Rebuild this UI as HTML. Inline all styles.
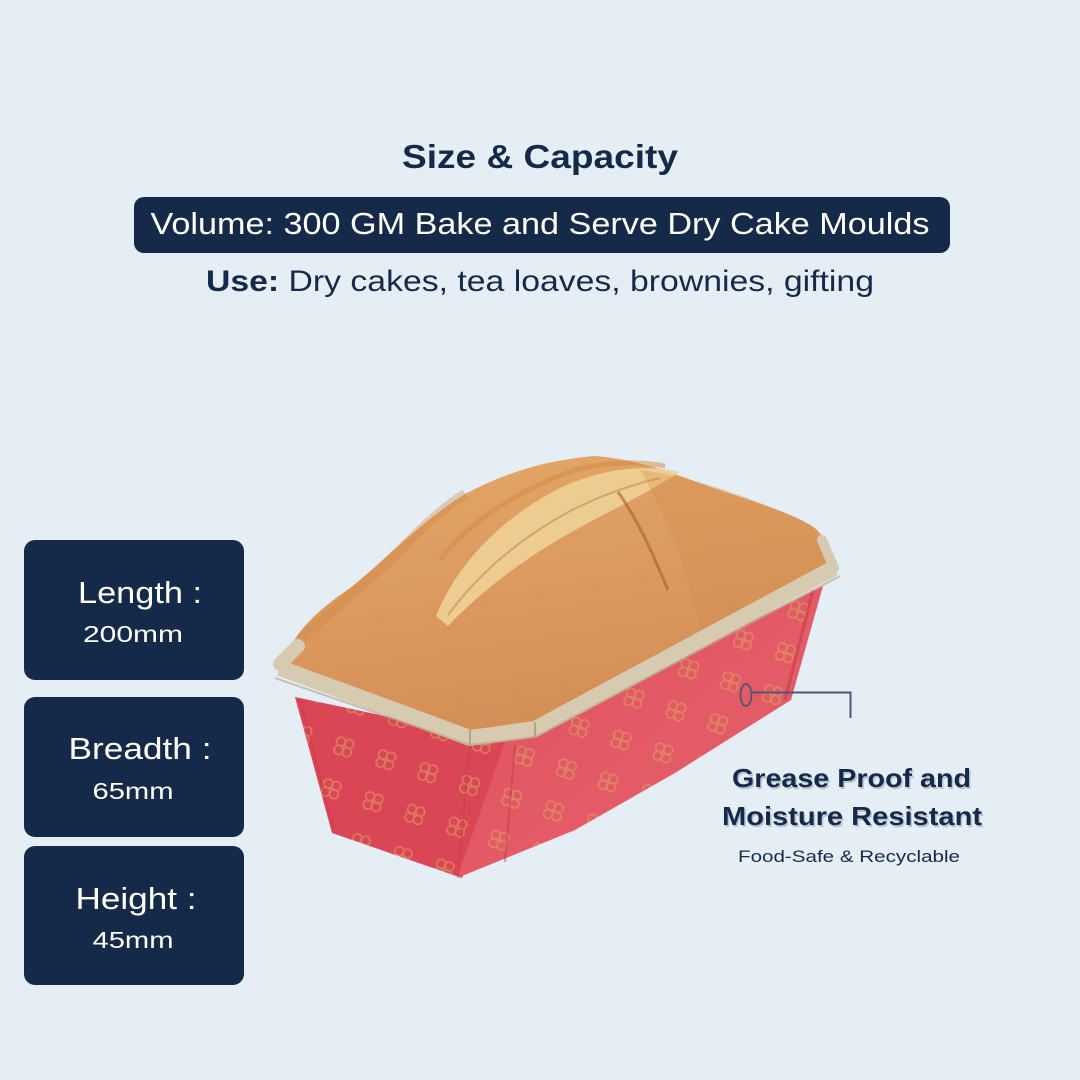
<!DOCTYPE html>
<html><head><meta charset="utf-8"><style>
html,body{margin:0;padding:0;background:#e5eef5;}
svg{display:block;}
text{font-family:"Liberation Sans",Arial,sans-serif;}
</style></head><body>
<svg width="1080" height="1080" viewBox="0 0 1080 1080" xmlns="http://www.w3.org/2000/svg">
<defs>
  <linearGradient id="loaf" x1="0" y1="0" x2="0.3" y2="1">
    <stop offset="0" stop-color="#e4a865"/>
    <stop offset="0.45" stop-color="#dd9c60"/>
    <stop offset="1" stop-color="#d48f57"/>
  </linearGradient>
  <linearGradient id="redR" x1="0" y1="0" x2="1" y2="1">
    <stop offset="0" stop-color="#e2505f"/>
    <stop offset="1" stop-color="#e5626d"/>
  </linearGradient>
  <pattern id="flw" width="62" height="62" patternUnits="userSpaceOnUse" patternTransform="rotate(-28)">
    <g fill="none" stroke="#d9a35c" stroke-width="1.6" opacity="0.6">
      <g transform="translate(15,15)">
        <circle cx="0" cy="-6" r="4.5"/><circle cx="6" cy="0" r="4.5"/><circle cx="0" cy="6" r="4.5"/><circle cx="-6" cy="0" r="4.5"/><circle cx="0" cy="0" r="1.5"/>
      </g>
      <g transform="translate(46,46)">
        <circle cx="0" cy="-6" r="4.5"/><circle cx="6" cy="0" r="4.5"/><circle cx="0" cy="6" r="4.5"/><circle cx="-6" cy="0" r="4.5"/><circle cx="0" cy="0" r="1.5"/>
      </g>
    </g>
  </pattern>
</defs>

<rect width="1080" height="1080" fill="#e5eef5"/>

<!-- Header -->
<text x="540" y="168" text-anchor="middle" font-size="33" font-weight="bold" fill="#152a4a" textLength="276" lengthAdjust="spacingAndGlyphs">Size &amp; Capacity</text>
<rect x="134" y="197" width="816" height="56" rx="10" fill="#152a48"/>
<text x="540" y="234" text-anchor="middle" font-size="31" fill="#ffffff" textLength="779" lengthAdjust="spacingAndGlyphs">Volume: 300 GM Bake and Serve Dry Cake Moulds</text>
<text x="540" y="291" text-anchor="middle" font-size="30" fill="#152a4a" textLength="668" lengthAdjust="spacingAndGlyphs"><tspan font-weight="bold">Use:</tspan> Dry cakes, tea loaves, brownies, gifting</text>

<!-- Left boxes -->
<rect x="24" y="540" width="220" height="140" rx="11" fill="#152a48"/>
<text x="140" y="603" text-anchor="middle" font-size="31" fill="#ffffff" textLength="124" lengthAdjust="spacingAndGlyphs">Length :</text>
<text x="133" y="642" text-anchor="middle" font-size="23" fill="#ffffff" textLength="100" lengthAdjust="spacingAndGlyphs">200mm</text>

<rect x="24" y="697" width="220" height="140" rx="11" fill="#152a48"/>
<text x="140" y="759" text-anchor="middle" font-size="31" fill="#ffffff" textLength="143" lengthAdjust="spacingAndGlyphs">Breadth :</text>
<text x="133" y="799" text-anchor="middle" font-size="23" fill="#ffffff" textLength="81" lengthAdjust="spacingAndGlyphs">65mm</text>

<rect x="24" y="846" width="220" height="139" rx="11" fill="#152a48"/>
<text x="136" y="909" text-anchor="middle" font-size="31" fill="#ffffff" textLength="121" lengthAdjust="spacingAndGlyphs">Height :</text>
<text x="133" y="948" text-anchor="middle" font-size="23" fill="#ffffff" textLength="81" lengthAdjust="spacingAndGlyphs">45mm</text>

<!-- Cake: red box -->
<path d="M295,697 L522,745 L462,878 L332,833 Z" fill="#db4657"/>
<path d="M295,697 L522,745 L462,878 L332,833 Z" fill="url(#flw)"/>
<path d="M505,742 L823,586 L791,700 L675,773 L575,830 L457,878 Z" fill="url(#redR)"/>
<path d="M505,742 L823,586 L791,700 L675,773 L575,830 L457,878 Z" fill="url(#flw)"/>
<path d="M515,746 L505,862" stroke="#c93a4c" stroke-width="2" opacity="0.5"/>
<path d="M470,744 L458,876" stroke="#c93a4c" stroke-width="2" opacity="0.4"/>
<path d="M813,590 L785,700" stroke="#c23546" stroke-width="3" opacity="0.5"/>
<path d="M300,700 L334,830" stroke="#c23546" stroke-width="2" opacity="0.4"/>

<!-- Loaf -->
<path d="M283,675 C285,640 312,614 350,588 C390,556 420,522 465,494 C505,473 545,460 595,456 C640,460 670,472 702,484 C748,500 792,512 815,528 C829,541 831,556 829,566 L535,724 L470,732 Z" fill="url(#loaf)"/>
<!-- crust left edge darker -->
<path d="M300,640 C330,610 360,590 395,555 C420,530 440,510 465,494" stroke="#cf8444" stroke-width="10" fill="none" opacity="0.35"/>
<!-- ridge highlight -->
<path d="M436,616 C458,562 502,518 560,488 C600,470 640,463 680,472 C652,490 620,506 590,522 C540,548 490,582 448,626 Z" fill="#f0d49a" opacity="0.85"/>
<path d="M440,560 C470,520 520,490 575,470 C610,462 640,461 665,466" stroke="#cf8a45" stroke-width="5" fill="none" opacity="0.5"/>
<path d="M448,615 C480,572 520,538 572,510 C600,496 630,485 660,478" stroke="#c08548" stroke-width="2" fill="none" opacity="0.55"/>
<!-- right crack -->
<path d="M618,492 C638,520 652,552 668,590" stroke="#a8672f" stroke-width="3" fill="none" opacity="0.65"/>
<!-- brown crust right -->
<path d="M640,470 C700,478 760,500 810,526 C826,540 828,556 826,566 L700,632 C690,580 670,520 640,470 Z" fill="#d08a4c" opacity="0.3"/>

<!-- Liner rim -->
<path d="M280,668 L470,738 L535,729 L834,568" stroke="#d6cab1" stroke-width="16" fill="none" stroke-linejoin="round"/>
<path d="M280,664 L298,646" stroke="#d6cab1" stroke-width="14" fill="none" stroke-linecap="round"/>
<path d="M834,568 L822,540" stroke="#d6cab1" stroke-width="10" fill="none" stroke-linecap="round"/>
<path d="M275,678 L470,745 L535,737 L840,576" stroke="#b9ab90" stroke-width="2" fill="none" opacity="0.7"/>
<path d="M470,730 L470,746 M535,722 L535,738" stroke="#b3a385" stroke-width="2"/>

<!-- Callout -->
<ellipse cx="746" cy="695" rx="5.5" ry="11" fill="none" stroke="#4a5a73" stroke-width="1.8"/>
<path d="M752,692.5 H850.5 V718" fill="none" stroke="#4a5a73" stroke-width="2"/>

<!-- Right text -->
<g font-weight="bold" font-size="26" text-anchor="middle">
  <text x="853" y="789" fill="#8f9aab" opacity="0.5" textLength="239" lengthAdjust="spacingAndGlyphs">Grease Proof and</text>
  <text x="851.5" y="787" fill="#152a4a" textLength="239" lengthAdjust="spacingAndGlyphs">Grease Proof and</text>
  <text x="853.5" y="827" fill="#8f9aab" opacity="0.5" textLength="260" lengthAdjust="spacingAndGlyphs">Moisture Resistant</text>
  <text x="852" y="825" fill="#152a4a" textLength="260" lengthAdjust="spacingAndGlyphs">Moisture Resistant</text>
</g>
<text x="849" y="862" text-anchor="middle" font-size="17" fill="#152a4a" textLength="222" lengthAdjust="spacingAndGlyphs">Food-Safe &amp; Recyclable</text>
</svg>
</body></html>
